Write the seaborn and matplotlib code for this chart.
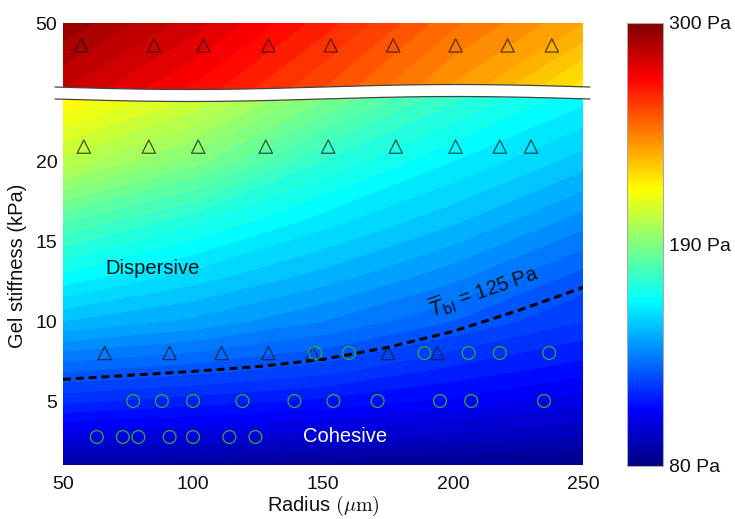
import numpy as np
import matplotlib
matplotlib.use('Agg')
import matplotlib.pyplot as plt
from matplotlib.colors import Normalize, LinearSegmentedColormap
from matplotlib.cm import ScalarMappable
from matplotlib.patches import Polygon
import seaborn as sns

# background tension field (Pa) on a coarse grid
radius_grid = [50, 100, 150, 200, 250]
stiff_grid = [1, 3, 5, 7, 10, 13, 16, 20, 24.5]
tension_main = [
    [87, 86, 85, 84, 83],
    [103, 101, 99, 96, 93],
    [117, 114, 111, 107, 102],
    [129, 126, 122, 115, 110],
    [148, 143, 136, 128, 120],
    [164, 155, 147, 138, 127],
    [179, 168, 157, 148, 137],
    [203, 190, 172, 160, 150],
    [222, 210, 191, 175, 163],
]
stiff_grid_top = [45.5, 50]
tension_top = [
    [283, 270, 255, 238, 220],
    [295, 282, 266, 249, 236],
]

# experiments: dispersive (triangles) and cohesive (circles)
tri_top_r = [57, 85, 104, 129, 153, 177, 201, 221, 238]
tri_top_e = 48.6
tri_21_r = [58, 83, 102, 128, 152, 178, 201, 218, 230]
tri_21_e = 20.9
tri_8_r = [66, 91, 111, 129, 146, 175, 194]
tri_8_e = 8.0
circ_8_r = [147, 160, 189, 206, 218, 237]
circ_8_e = 8.0
circ_5_r = [77, 88, 100, 119, 139, 154, 171, 195, 207, 235]
circ_5_e = 5.0
circ_3_r = [63, 73, 79, 91, 100, 114, 124]
circ_3_e = 2.75

# 125 Pa boundary
dash_r = [50, 75, 100, 125, 150, 175, 200, 225, 250]
dash_e = [6.35, 6.6, 6.85, 7.15, 7.6, 8.35, 9.35, 10.65, 12.1]

# MATLAB-style jet
jet_m = LinearSegmentedColormap('jet_m', {
    'red': [(0, 0, 0), (0.375, 0, 0), (0.625, 1, 1), (0.875, 1, 1), (1, 0.5, 0.5)],
    'green': [(0, 0, 0), (0.125, 0, 0), (0.375, 1, 1), (0.625, 1, 1), (0.875, 0, 0), (1, 0, 0)],
    'blue': [(0, 0.5, 0.5), (0.125, 1, 1), (0.375, 1, 1), (0.625, 0, 0), (1, 0, 0)],
})

sns.set_theme(style='white')
plt.rcParams['font.family'] = ['Liberation Sans', 'DejaVu Sans']

W, H = 735, 519
fig = plt.figure(figsize=(W / 100, H / 100), dpi=100)


def px_axes(x0, y0, x1, y1):
    return fig.add_axes([x0 / W, 1 - y1 / H, (x1 - x0) / W, (y1 - y0) / H])


ax = px_axes(63, 92, 583, 465)
ax_top = px_axes(63, 23, 583, 92)
cax = px_axes(627, 23, 663, 466)

norm = Normalize(80, 300)
levels = np.arange(80, 304, 4)

ax.contourf(radius_grid, stiff_grid, tension_main, levels=levels, cmap=jet_m, norm=norm, extend='both')
ax_top.contourf(radius_grid, stiff_grid_top, tension_top, levels=levels, cmap=jet_m, norm=norm, extend='both')

tri_kw = dict(marker='^', s=92, facecolor='none', edgecolor='#1a1a1a', linewidth=0.9, alpha=0.75, zorder=3)
circ_kw = dict(marker='o', s=85, facecolor='none', edgecolor='#2f9e4c', linewidth=1.0, zorder=3)

sns.scatterplot(x=tri_top_r, y=[tri_top_e] * len(tri_top_r), ax=ax_top, **tri_kw)
sns.scatterplot(x=tri_21_r, y=[tri_21_e] * len(tri_21_r), ax=ax, **tri_kw)
sns.scatterplot(x=tri_8_r, y=[tri_8_e] * len(tri_8_r), ax=ax, **tri_kw)
sns.scatterplot(x=circ_8_r, y=[circ_8_e] * len(circ_8_r), ax=ax, **circ_kw)
sns.scatterplot(x=circ_5_r, y=[circ_5_e] * len(circ_5_r), ax=ax, **circ_kw)
sns.scatterplot(x=circ_3_r, y=[circ_3_e] * len(circ_3_r), ax=ax, **circ_kw)

sns.lineplot(x=dash_r, y=dash_e, ax=ax, color='black', lw=2.2, linestyle=(0, (2.6, 1.6)), zorder=4)

ax.set_xlim(50, 250)
ax.set_ylim(1, 1 + 373 / 16)
ax_top.set_xlim(50, 250)
ax_top.set_ylim(50 - 69 / 16, 50)

ax.set_xticks([50, 100, 150, 200, 250])
ax.set_yticks([5, 10, 15, 20])
ax_top.set_xticks([])
ax_top.set_yticks([50])
ax.set_xlabel('')
ax.set_ylabel('')
for a in (ax, ax_top):
    a.tick_params(length=0, labelsize=14, colors='#111111')
    a.tick_params(axis='y', pad=4)
    a.tick_params(axis='x', pad=8)
    for s in a.spines.values():
        s.set_visible(False)

ax.text(84.5, 13.3, 'Dispersive', fontsize=14.5, ha='center', va='center', color='#111111')
ax.text(158.5, 2.8, 'Cohesive', fontsize=14.5, ha='center', va='center', color='white')
ax.text(212, 11.9, r'$\overline{T}_{\mathrm{bl}}$ = 125 Pa', fontsize=14.5, ha='center', va='center',
        rotation=19, rotation_mode='anchor', math_fontfamily='dejavusans', color='#111111')

fig.text(323 / W, 1 - 506 / H, r'Radius $(\mu\mathrm{m})$', fontsize=14.5, ha='center', va='center',
         math_fontfamily='cm', color='#111111')
fig.text(18 / W, 1 - 266 / H, 'Gel stiffness (kPa)', fontsize=14.5, ha='center', va='center',
         rotation=90, color='#111111')

# axis break: white wavy band with thin edges
xs = np.linspace(55, 590, 200)
y_up = 87 + 2.5 * np.sin(2 * np.pi * (xs - 55) / 535)
y_dn = y_up + 12
band = np.column_stack([np.r_[xs, xs[::-1]], np.r_[y_up, y_dn[::-1]]])
band_fig = np.column_stack([band[:, 0] / W, 1 - band[:, 1] / H])
fig.add_artist(Polygon(band_fig, closed=True, facecolor='white', edgecolor='none',
                       transform=fig.transFigure, zorder=10))
for yy in (y_up, y_dn):
    fig.add_artist(plt.Line2D(xs / W, 1 - yy / H, color='#444444', lw=0.9,
                              transform=fig.transFigure, zorder=11))

sm = ScalarMappable(norm=norm, cmap=jet_m)
cb = fig.colorbar(sm, cax=cax, ticks=[80, 190, 300])
cb.ax.set_yticklabels(['80 Pa', '190 Pa', '300 Pa'])
cb.ax.tick_params(length=0, pad=4, labelsize=14, colors='#111111')
cb.outline.set_edgecolor('#aaaaaa')
cb.outline.set_linewidth(0.8)

fig.savefig('out.png', dpi=100)
